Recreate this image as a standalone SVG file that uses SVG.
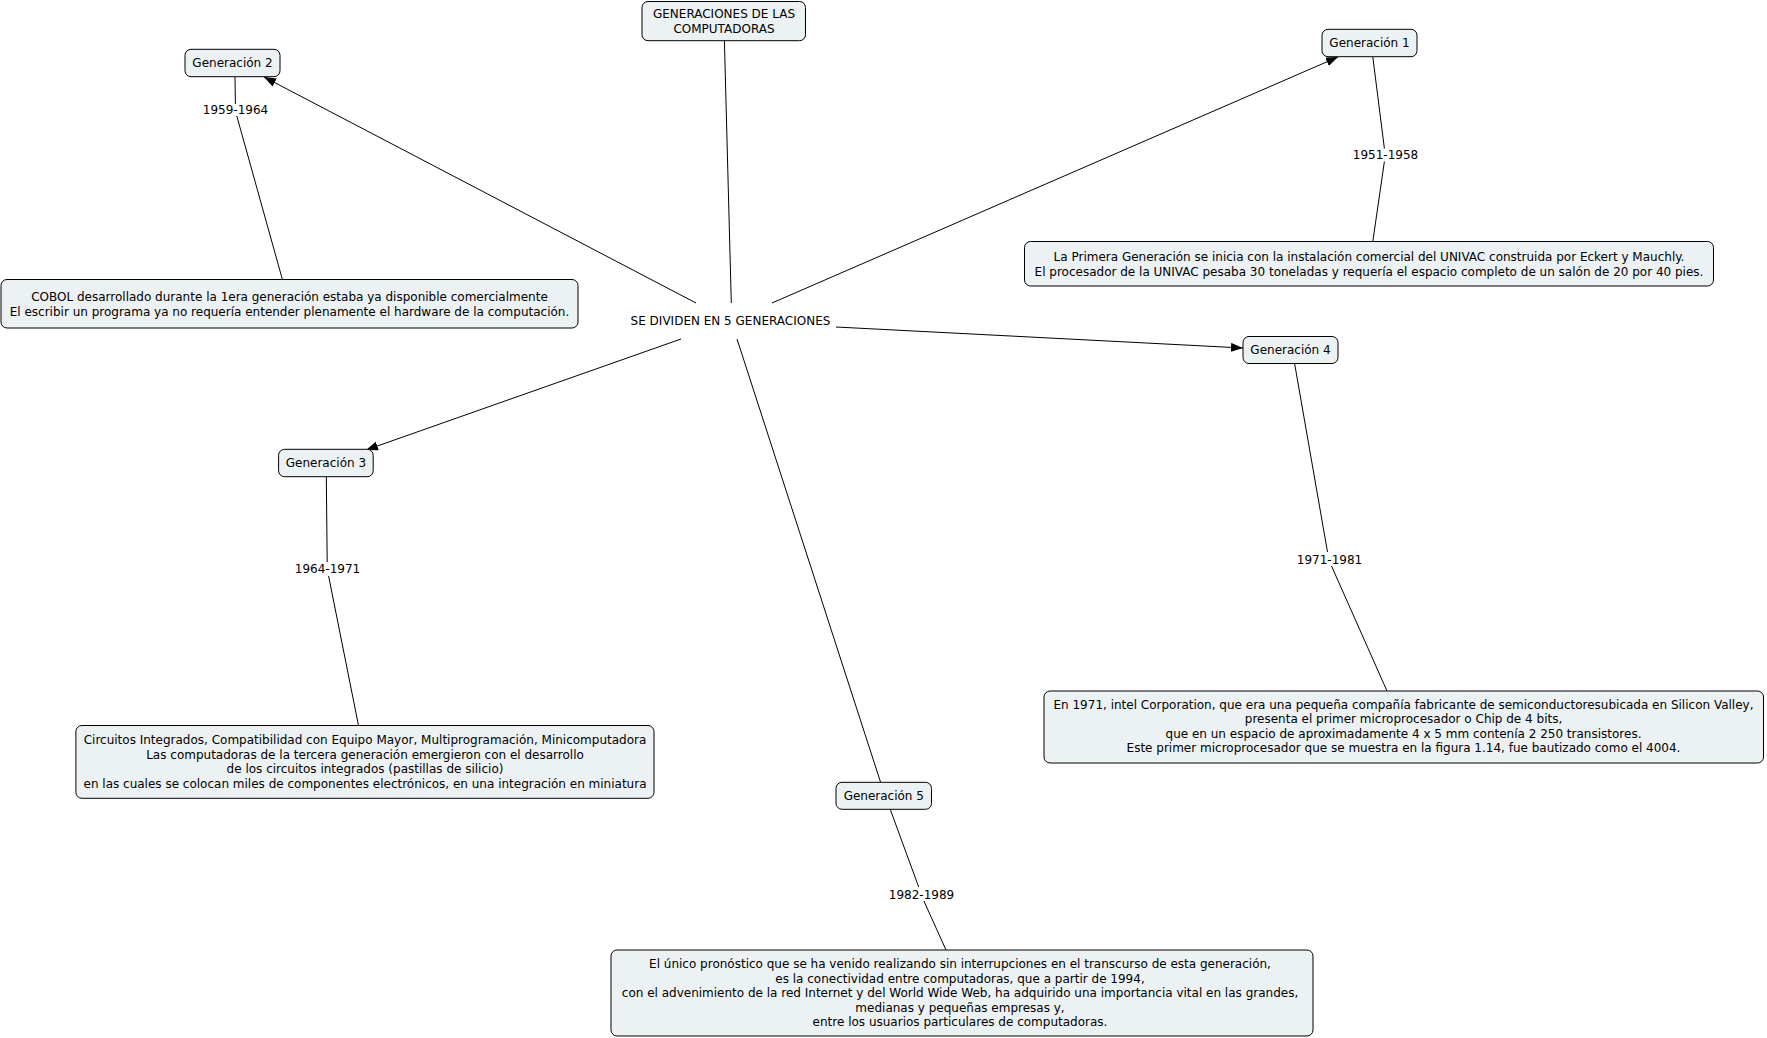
<svg xmlns="http://www.w3.org/2000/svg" width="1767" height="1038" viewBox="0 0 1767 1038">
<style>
.box{fill:#ECF2F4;stroke:#000;stroke-width:1}
text{font-family:"DejaVu Sans","Verdana",sans-serif;font-size:12px;fill:#000;text-anchor:middle}
.ln{stroke:#000;stroke-width:1;fill:none}
.arr{marker-end:url(#ah)}
</style>
<defs>
<marker id="ah" markerUnits="userSpaceOnUse" markerWidth="13" markerHeight="10" refX="12" refY="4.5" orient="auto">
<path d="M0,0 L12,4.5 L0,9 z" fill="#000"/>
</marker>
</defs>
<rect width="1767" height="1038" fill="#fff"/>
<g id="connectors">
<line class="ln" x1="724.4" y1="40.7" x2="731.3" y2="303"/>
<line class="ln arr" x1="696" y1="303" x2="264" y2="77"/>
<line class="ln arr" x1="772" y1="303" x2="1338" y2="57"/>
<line class="ln arr" x1="836" y1="327" x2="1243" y2="348"/>
<line class="ln arr" x1="681" y1="339" x2="366" y2="450"/>
<line class="ln" x1="737" y1="339" x2="880.5" y2="782"/>
<line class="ln" x1="235" y1="77" x2="235.4" y2="104"/>
<line class="ln" x1="236.8" y1="116" x2="282.4" y2="279.5"/>
<line class="ln" x1="1372.8" y1="57" x2="1384.4" y2="148.5"/>
<line class="ln" x1="1384.4" y1="161.5" x2="1372.8" y2="241.5"/>
<line class="ln" x1="1294.6" y1="363.5" x2="1327.5" y2="552"/>
<line class="ln" x1="1331.5" y1="566" x2="1387" y2="691"/>
<line class="ln" x1="326.3" y1="477" x2="327.2" y2="562"/>
<line class="ln" x1="328.6" y1="576" x2="358.5" y2="725.5"/>
<line class="ln" x1="890.3" y1="809.5" x2="918.7" y2="887"/>
<line class="ln" x1="923.9" y1="901" x2="946" y2="950"/>
</g>
<g id="title">
<rect class="box" x="642" y="1.5" width="163.5" height="39.2" rx="6"/>
<text x="724" y="18">GENERACIONES DE LAS</text>
<text x="724" y="32.5">COMPUTADORAS</text>
</g>
<g id="center">
<text x="730.5" y="325">SE DIVIDEN EN 5 GENERACIONES</text>
</g>
<g id="gen1">
<rect class="box" x="1322" y="29.3" width="95" height="27.4" rx="6"/>
<text x="1369.5" y="47">Generación 1</text>
</g>
<g id="gen1-label"><text x="1385.5" y="159">1951-1958</text></g>
<g id="gen1-desc">
<rect class="box" x="1024.5" y="241.5" width="689" height="44.5" rx="6"/>
<text x="1369" y="261">La Primera Generación se inicia con la instalación comercial del UNIVAC construida por Eckert y Mauchly.</text>
<text x="1369" y="275.5">El procesador de la UNIVAC pesaba 30 toneladas y requería el espacio completo de un salón de 20 por 40 pies.</text>
</g>
<g id="gen2">
<rect class="box" x="185" y="49.3" width="95" height="27.4" rx="6"/>
<text x="232.5" y="67">Generación 2</text>
</g>
<g id="gen2-label"><text x="235.5" y="114">1959-1964</text></g>
<g id="gen2-desc">
<rect class="box" x="1" y="279.5" width="577" height="48.5" rx="6"/>
<text x="289.5" y="301">COBOL desarrollado durante la 1era generación estaba ya disponible comercialmente</text>
<text x="289.5" y="315.5">El escribir un programa ya no requería entender plenamente el hardware de la computación.</text>
</g>
<g id="gen3">
<rect class="box" x="278.6" y="449.3" width="94.6" height="27.4" rx="6"/>
<text x="325.9" y="467">Generación 3</text>
</g>
<g id="gen3-label"><text x="327.5" y="573">1964-1971</text></g>
<g id="gen3-desc">
<rect class="box" x="75.9" y="725.5" width="578.1" height="72.8" rx="6"/>
<text x="365" y="744">Circuitos Integrados, Compatibilidad con Equipo Mayor, Multiprogramación, Minicomputadora</text>
<text x="365" y="758.5">Las computadoras de la tercera generación emergieron con el desarrollo</text>
<text x="365" y="773">de los circuitos integrados (pastillas de silicio)</text>
<text x="365" y="787.5">en las cuales se colocan miles de componentes electrónicos, en una integración en miniatura</text>
</g>
<g id="gen4">
<rect class="box" x="1243" y="336.5" width="95" height="27" rx="6"/>
<text x="1290.5" y="354">Generación 4</text>
</g>
<g id="gen4-label"><text x="1329.5" y="563.5">1971-1981</text></g>
<g id="gen4-desc">
<rect class="box" x="1044" y="691" width="719.5" height="72" rx="6"/>
<text x="1403.5" y="708.5">En 1971, intel Corporation, que era una pequeña compañía fabricante de semiconductoresubicada en Silicon Valley,</text>
<text x="1403.5" y="723">presenta el primer microprocesador o Chip de 4 bits,</text>
<text x="1403.5" y="737.5">que en un espacio de aproximadamente 4 x 5 mm contenía 2 250 transistores.</text>
<text x="1403.5" y="752">Este primer microprocesador que se muestra en la figura 1.14, fue bautizado como el 4004.</text>
</g>
<g id="gen5">
<rect class="box" x="836" y="782.3" width="95.5" height="27" rx="6"/>
<text x="883.8" y="800">Generación 5</text>
</g>
<g id="gen5-label"><text x="921.5" y="898.5">1982-1989</text></g>
<g id="gen5-desc">
<rect class="box" x="611" y="950" width="702" height="86" rx="6"/>
<text x="960" y="968">El único pronóstico que se ha venido realizando sin interrupciones en el transcurso de esta generación,</text>
<text x="960" y="982.5">es la conectividad entre computadoras, que a partir de 1994,</text>
<text x="960" y="997">con el advenimiento de la red Internet y del World Wide Web, ha adquirido una importancia vital en las grandes,</text>
<text x="960" y="1011.5">medianas y pequeñas empresas y,</text>
<text x="960" y="1026">entre los usuarios particulares de computadoras.</text>
</g>
</svg>
